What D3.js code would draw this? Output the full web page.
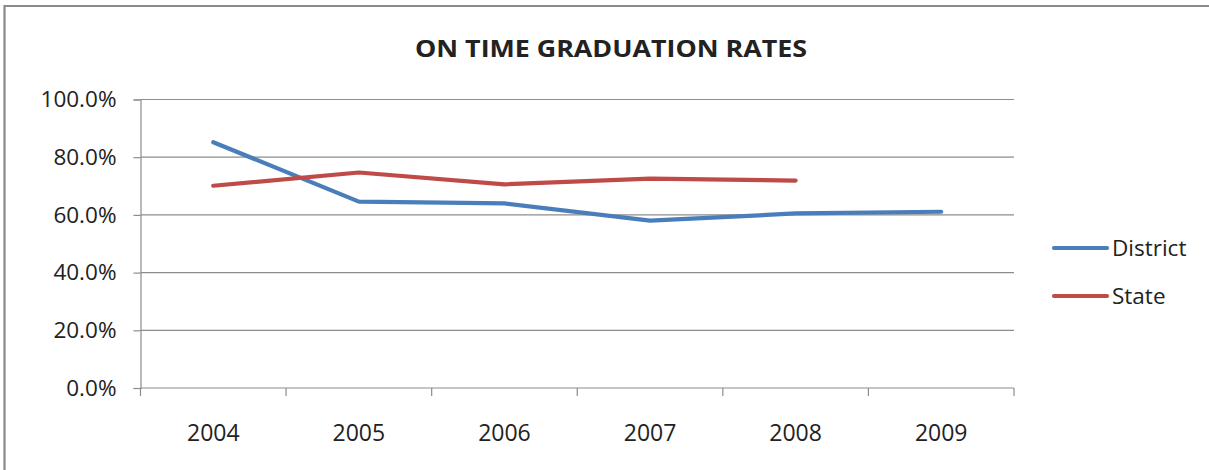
<!DOCTYPE html>
<html>
<head>
<meta charset="utf-8">
<script src="https://cdn.jsdelivr.net/npm/d3@7"></script>
<style>
  html, body { margin: 0; padding: 0; background: #fff; }
  svg { display: block; }
  text { font-family: "Open Sans", "Noto Sans", sans-serif; fill: #222; }
</style>
</head>
<body>
<svg id="chart" width="1209" height="470"></svg>
<script>
// On-time graduation rates by year
const years = ["2004", "2005", "2006", "2007", "2008", "2009"];
const districtRates = [0.852, 0.646, 0.640, 0.580, 0.605, 0.611];
const stateRates = [0.701, 0.747, 0.706, 0.726, 0.719, null];
const yTicks = [0, 0.2, 0.4, 0.6, 0.8, 1.0];
const seriesNames = ["District", "State"];
const seriesColors = ["#4A7EBB", "#BE4B48"];

const svg = d3.select("#chart");
const W = 1209, H = 470;
const plot = { left: 140.5, right: 1014, top: 99.5, bottom: 388 };

// outer frame (top and left edges visible)
svg.append("path")
  .attr("d", `M4.5,${H} V6 H${W}`)
  .attr("fill", "none")
  .attr("stroke", "#8a8a8a")
  .attr("stroke-width", 2.2);

// title
svg.append("text")
  .attr("x", 611).attr("y", 57)
  .attr("text-anchor", "middle")
  .attr("font-weight", "bold")
  .attr("font-size", 24)
  .attr("textLength", 392)
  .attr("lengthAdjust", "spacingAndGlyphs")
  .text("ON TIME GRADUATION RATES");

const x = d3.scaleBand().domain(years).range([plot.left, plot.right]).paddingInner(0).paddingOuter(0);
const y = d3.scaleLinear().domain([0, 1]).range([plot.bottom, plot.top]);

// horizontal gridlines
svg.append("g")
  .selectAll("line")
  .data(yTicks.filter(d => d > 0))
  .join("line")
  .attr("x1", plot.left).attr("x2", plot.right)
  .attr("y1", d => y(d)).attr("y2", d => y(d))
  .attr("stroke", "#8c8c8c").attr("stroke-width", 1.2);

// y axis
const yAxis = svg.append("g")
  .attr("transform", `translate(${plot.left},0)`)
  .call(d3.axisLeft(y).tickValues(yTicks).tickFormat(d3.format(".1%")).tickSize(7).tickPadding(17));
yAxis.select(".domain").attr("stroke", "#8c8c8c").attr("stroke-width", 1.2);
yAxis.selectAll(".tick line").attr("stroke", "#8c8c8c").attr("stroke-width", 1.2);
yAxis.selectAll(".tick text")
  .attr("font-size", 22.5).attr("fill", "#222")
  .attr("font-family", "'Open Sans', sans-serif");

// x axis with ticks between categories
const xAxis = svg.append("g")
  .attr("transform", `translate(0,${plot.bottom})`);
xAxis.append("line")
  .attr("x1", plot.left).attr("x2", plot.right)
  .attr("stroke", "#8c8c8c").attr("stroke-width", 1.2);
const bounds = years.map(d => x(d)).concat([plot.right]);
xAxis.selectAll("line.tk")
  .data(bounds)
  .join("line").attr("class", "tk")
  .attr("x1", d => d).attr("x2", d => d)
  .attr("y1", 0).attr("y2", 8)
  .attr("stroke", "#8c8c8c").attr("stroke-width", 1.2);
xAxis.selectAll("text")
  .data(years)
  .join("text")
  .attr("x", d => x(d) + x.bandwidth() / 2)
  .attr("y", 53)
  .attr("text-anchor", "middle")
  .attr("font-size", 23)
  .text(d => d);

// series lines
const line = d3.line()
  .defined(d => d.v != null)
  .x(d => x(d.year) + x.bandwidth() / 2)
  .y(d => y(d.v));

[districtRates, stateRates].forEach((vals, i) => {
  svg.append("path")
    .datum(years.map((yr, j) => ({ year: yr, v: vals[j] })))
    .attr("fill", "none")
    .attr("stroke", seriesColors[i])
    .attr("stroke-width", 4.2)
    .attr("stroke-linecap", "round")
    .attr("stroke-linejoin", "round")
    .attr("d", line);
});

// legend
const legend = svg.append("g");
seriesNames.forEach((name, i) => {
  const ly = 248 + i * 48;
  legend.append("line")
    .attr("x1", 1054).attr("x2", 1107)
    .attr("y1", ly).attr("y2", ly)
    .attr("stroke", seriesColors[i])
    .attr("stroke-width", 4.2)
    .attr("stroke-linecap", "round");
  legend.append("text")
    .attr("x", 1112).attr("y", ly + 8)
    .attr("font-size", 22.5)
    .text(name);
});
</script>
</body>
</html>
